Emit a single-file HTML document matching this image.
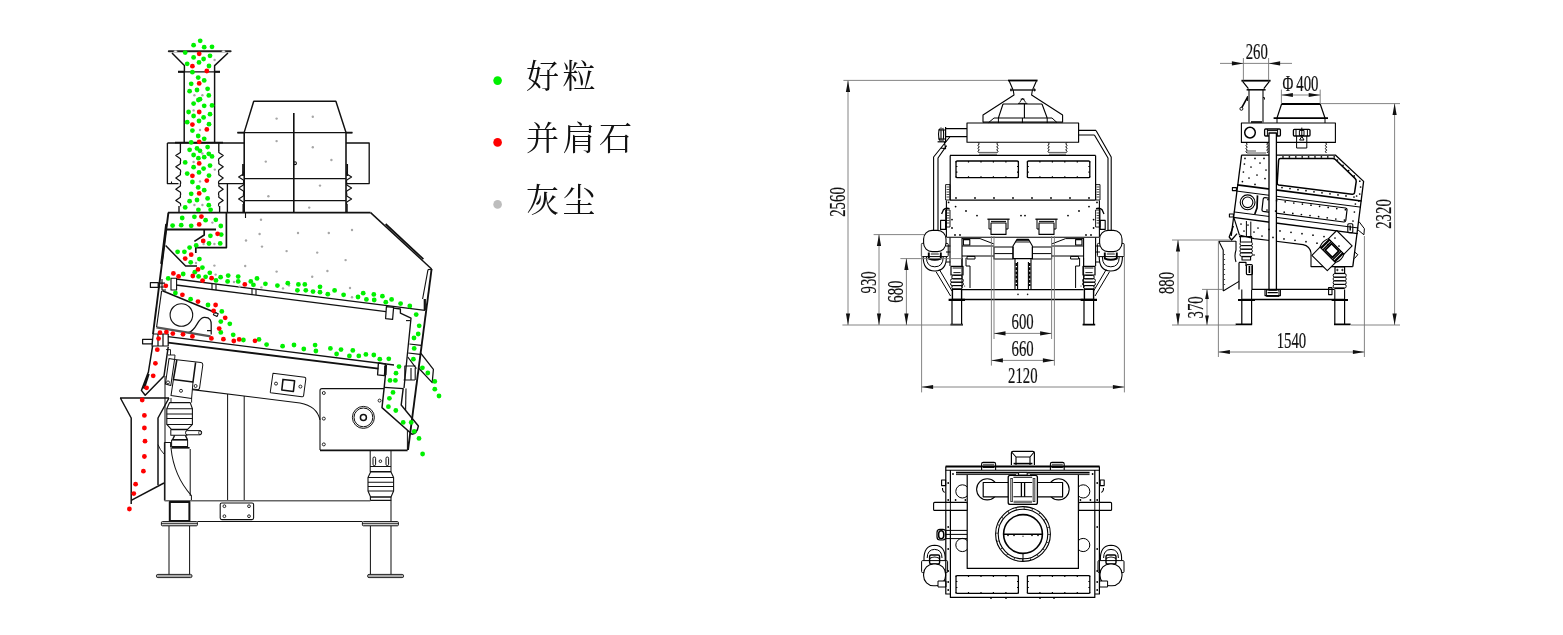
<!DOCTYPE html>
<html lang="zh"><head><meta charset="utf-8"><title>去石机</title>
<style>
html,body{margin:0;padding:0;background:#fff;overflow:hidden}
body{width:1563px;height:635px;position:relative;font-family:"Liberation Sans","Noto Serif CJK SC",sans-serif}
svg{position:absolute;left:0;top:0;display:block;will-change:transform}
.lg{font-family:"Liberation Serif","Noto Serif CJK SC",serif;font-weight:400;font-size:33px;fill:#111;letter-spacing:3.5px}
.dm{font-family:"Liberation Serif","Noto Serif CJK SC",serif;fill:#111;stroke:#111;stroke-width:0.2px}
</style></head><body>
<svg width="1563" height="635" viewBox="0 0 1563 635">
<g id="left" fill="none" stroke="#111" stroke-linejoin="round">
<path d="M168.8,51.2H230.6" stroke-width="2.02" stroke-linecap="round" stroke="#222"/>
<ellipse cx="175.5" cy="51.3" rx="2" ry="0.7" fill="#fff" stroke="none"/><ellipse cx="223.5" cy="51.3" rx="2" ry="0.7" fill="#fff" stroke="none"/>
<path d="M172,53L184.4,65.6V72 M228,53L214.6,65.6V72" stroke-width="1.46" />
<path d="M178,71.8H220" stroke-width="1.23" />
<path d="M178,71.8H184.4 M214.4,71.8H220" stroke-width="2.13" />
<path d="M184.2,72V142 M214.6,72V142" stroke-width="1.46" />
<path d="M175,142.6H223" stroke-width="1.68" />
<path d="M167.4,143H244 M167.4,143V183.6H178.5 M219,183.6H243 M227.4,184V212.6" stroke-width="1.34" />
<path d="M180.4,143V150.4" stroke-width="1.34" />
<path d="M218.8,143V150.4" stroke-width="1.34" />
<path d="M180.4,150 L180.40,152.46 L175.80,155.60 L180.40,158.74 Q180.95,161.20 180.40,161.20 L180.40,163.66 L175.80,166.80 L180.40,169.94 Q180.95,172.40 180.40,172.40 L180.40,174.86 L175.80,178.00 L180.40,181.14 Q180.95,183.60 180.40,183.60 L180.40,186.06 L175.80,189.20 L180.40,192.34 Q180.95,194.80 180.40,194.80 L180.40,197.26 L175.80,200.40 L180.40,203.54 Q180.95,206.00 180.40,206.00" stroke-width="1.23" />
<path d="M218.8,150 L218.80,152.46 L223.20,155.60 L218.80,158.74 Q218.27,161.20 218.80,161.20 L218.80,163.66 L223.20,166.80 L218.80,169.94 Q218.27,172.40 218.80,172.40 L218.80,174.86 L223.20,178.00 L218.80,181.14 Q218.27,183.60 218.80,183.60 L218.80,186.06 L223.20,189.20 L218.80,192.34 Q218.27,194.80 218.80,194.80 L218.80,197.26 L223.20,200.40 L218.80,203.54 Q218.27,206.00 218.80,206.00" stroke-width="1.23" />
<path d="M179,206V212.6 M219.6,206V212.6" stroke-width="1.34" />
<path d="M171.5,181.5v2" stroke-width="1.12" />
<path d="M253.6,101.2H336" stroke-width="1.51" />
<path d="M253.8,101L244.2,132.4 M335.8,101L346,132.4" stroke-width="1.46" />
<path d="M237.4,132.6H352.4" stroke-width="1.34" />
<path d="M237.4,132.6H244 M346,132.6H352.4" stroke-width="1.79" />
<path d="M244.2,132.4V212.6 M346,132.4V212.6" stroke-width="1.57" />
<path d="M244.2,178.6H346 M244.2,200.6H346" stroke-width="1.34" />
<path d="M293.8,113V212.6" stroke-width="1.62" />
<circle cx="295" cy="163.2" r="1.4" stroke-width="1.1"/>
<path d="M346,143H369.2V183.6H346" stroke-width="1.34" />
<path d="M243,164V176 M347.2,164V176" stroke-width="1.68" />
<path d="M243.4,171.5 L243.40,173.92 L238.60,177.00 L243.40,180.08 Q243.98,182.50 243.40,182.50 L243.40,184.92 L238.60,188.00 L243.40,191.08 Q243.98,193.50 243.40,193.50 L243.40,195.92 L238.60,199.00 L243.40,202.08 Q243.98,204.50 243.40,204.50" stroke-width="1.12" />
<path d="M346.8,171.5 L346.80,173.92 L351.60,177.00 L346.80,180.08 Q346.22,182.50 346.80,182.50 L346.80,184.92 L351.60,188.00 L346.80,191.08 Q346.22,193.50 346.80,193.50 L346.80,195.92 L351.60,199.00 L346.80,202.08 Q346.22,204.50 346.80,204.50" stroke-width="1.12" />
<path d="M243.2,204V212 M347,204V212" stroke-width="1.46" />
<path d="M245.5,212.6V218" stroke-width="1.12" />
<path d="M168,212.6H370.6" stroke-width="1.68" />
<path d="M370.6,212.6L431.6,269" stroke-width="1.46" />
<path d="M385.6,224L423.4,259.2" stroke-width="1.79" />
<path d="M431.6,269L408,450" stroke-width="1.9" />
<path d="M428,269.6L422.6,299 M428,269.6L431.4,269.2" stroke-width="1.12" />
<path d="M424.8,299V310" stroke-width="2.24" />
<path d="M168.4,212.6L153,334" stroke-width="1.9" />
<path d="M166.3,224L161.3,264" stroke-width="2.24" />
<path d="M166,229.5H216" stroke-width="1.9" />
<path d="M226.4,212.6V247.6H195.8V253" stroke-width="1.68" />
<path d="M204.2,229.5V235L194.4,241.4" stroke-width="1.68" />
<path d="M165.6,245.6L185.6,266H197" stroke-width="1.46" />
<path d="M176,279L425,310.4" stroke-width="1.34" />
<path d="M176,285L386,311.6" stroke-width="1.34" />
<path d="M171,278.2H176.6V290H171Z" stroke-width="1.12" />
<path d="M150.4,282.6H158.2V287.4H150.4Z M158.2,283.2H165 M158.2,287H164.5" stroke-width="1.23" />
<path d="M162,279V290H166" stroke-width="1.12" />
<path d="M212,283.7V289.6 M216,284.2V290 M252,288.8V294.6 M256,289.3V295" stroke-width="1.12" />
<path d="M386.4,306.6L393.6,307.4L392.6,319.4L385.6,318.6Z" stroke-width="1.23" />
<path d="M393.6,308.2L400.4,309V313.2L411,318.2L404,388" stroke-width="1.34" />
<path d="M406,320.6H410.5" stroke-width="1.12" />
<path d="M409.4,344L421,345.4 M408.2,353L420,354.4" stroke-width="1.23" />
<path d="M420.6,353L433.4,369.4L432.2,382.6L418.6,368" stroke-width="1.23" />
<path d="M407.8,357L416.4,368.6" stroke-width="1.23" />
<path d="M162.4,290.8L216.4,313" stroke-width="1.62" />
<path d="M214.6,312.2L218.2,313.8L217,316.4L213.4,314.8Z" stroke-width="1.12" />
<circle cx="181.4" cy="315" r="11.3" stroke-width="1.1"/>
<path d="M188,332.6C197,331 197,318 204,317.4C210.5,317 211.4,321 211.2,325V334.6 M207,330.6H211" stroke-width="1.23" />
<path d="M156.4,327.4L210.6,336.4" stroke-width="2.35" stroke="#555"/>
<path d="M161.6,291L156.6,327" stroke-width="1.12" />
<path d="M168,336.6L394,365" stroke-width="1.34" />
<path d="M168,342.6L378.4,368.6" stroke-width="1.9" />
<path d="M153.2,334H168.2V346H152Z M158,334V346 M163,334V346" stroke-width="1.23" />
<path d="M142.6,339.4H152.4V343.8H142.6Z" stroke-width="1.23" />
<path d="M378.4,363L385.4,363.8L384.4,375.6L377.6,374.8Z" stroke-width="1.34" />
<path d="M385.4,366V375" stroke-width="2.24" />
<path d="M152.6,346L148.4,372L141.4,390.4L145.2,395.2L164,376L168.2,347" stroke-width="1.51" />
<path d="M148.6,374L143.8,388.6" stroke-width="2.24" />
<path d="M386.4,365L384.2,387.4L382,407.6L412,434.2Q417,433.6 418.4,426L401.2,405L403.2,388.4" stroke-width="1.46" />
<path d="M384.2,387.4L403.4,388.6" stroke-width="1.23" />
<path d="M404.4,366H415.6 M403.6,380H415 M404.8,366V380 M415.2,368V380 M411,368V380" stroke-width="1.12" />
<path d="M406,388.6L405.6,410" stroke-width="1.12" />
<path d="M169,358.6L174.6,359.4L170.8,385.6L165.4,384Z" stroke-width="1.01" />
<path d="M174.6,359.4L201,362.6Q203,363 202.8,365L199.6,388Q199,390 197,389.6L192.4,389" stroke-width="1.01" />
<path d="M176.8,360L173.4,379.6L193,382L195.6,362.4" stroke-width="1.56" />
<path d="M173.4,379.6L171,395.6L191.6,398.4L193,382" stroke-width="1.01" />
<circle cx="168" cy="382.4" r="1.5" stroke-width="0.9"/><circle cx="195.6" cy="386" r="1.5" stroke-width="0.9"/><circle cx="181" cy="390.8" r="1.5" stroke-width="0.9"/>
<path d="M165,376V500.6" stroke-width="1.01" />
<path d="M166,349.6H170.5V355 M168,355H175L174.6,359.4" stroke-width="0.92" />
<path d="M169.6,402.6H190.2L192.4,408.8V424.4L187.6,429.4H171.4L166.8,424.4V408.8Z" stroke-width="1.1" stroke-linejoin="round"/>
<path d="M166.8,408.8H192.4 M166.8,414H192.4 M166.8,418.6H192.4 M166.8,424.4H192.4" stroke-width="1.01" />
<path d="M171,398V402.6 M191.6,398.4V402.6" stroke-width="0.92" />
<path d="M170.8,429.8H187V435.2H170.8Z" stroke-width="1.01" />
<rect x="185.6" y="430.6" width="16" height="4.2" rx="1.6" stroke-width="1" fill="#fff"/><ellipse cx="200" cy="432.7" rx="1.3" ry="2" stroke-width="0.8"/>
<path d="M174.6,435.4L172.6,439.6H187.4L185.4,435.4" stroke-width="1.29" />
<path d="M171.6,440H187.6V446.6H171.6Z" stroke-width="1.01" />
<path d="M171.4,447.8H189.6" stroke-width="1.66" />
<path d="M120,398H169 M120.4,398L131.2,418V504 M169,398L158,418V485" stroke-width="1.47" />
<path d="M131.2,500.4L164,483" stroke-width="1.47" />
<path d="M164.4,442.4H170.6V447.6 M164.4,442.4V500.6 M190.2,449V496" stroke-width="1.01" />
<path d="M171,448C173,468 181,484 191.4,495.6V500.6" stroke-width="1.01" />
<path d="M158,444.6Q160,450 164,454" stroke-width="0.92" />
<path d="M227.6,394V500.6 M244.2,396V500.6" stroke-width="1.01" />
<path d="M192.4,389.6L300,403Q317,406 320,420" stroke-width="1.1" />
<path d="M273,373.2L304.6,377.2Q306,377.6 305.8,379L303.6,395.6Q303.2,397 301.8,396.8L270.6,392.8Q270,392.6 270.4,391.2Z" stroke-width="1.01" />
<path d="M283,379.4L294.6,380.8L293.4,391.4L281.8,390Z" stroke-width="1.56" />
<circle cx="276" cy="383.6" r="1.5" stroke-width="0.9"/><circle cx="300.4" cy="386.6" r="1.5" stroke-width="0.9"/>
<path d="M384,388.6H322Q320,388.6 320,390.6V450" stroke-width="1.1" />
<path d="M320,450.4H407.6" stroke-width="1.84" />
<path d="M407.4,430V450" stroke-width="1.01" />
<circle cx="323.8" cy="393" r="1.5" stroke-width="0.9"/>
<circle cx="323.8" cy="418.6" r="1.5" stroke-width="0.9"/>
<circle cx="323.8" cy="444.4" r="1.5" stroke-width="0.9"/>
<circle cx="379.6" cy="400.6" r="1.5" stroke-width="0.9"/>
<circle cx="363.4" cy="417.4" r="11" stroke-width="1"/><circle cx="363.4" cy="417.4" r="9.4" stroke-width="1"/><circle cx="363.4" cy="417.4" r="3" stroke-width="1.5"/>
<path d="M370.2,451V471.4H391V451 M370.2,466.6H391" stroke-width="1.01" />
<rect x="373" y="457" width="2.6" height="8.6" rx="1.3" stroke-width="1"/><rect x="386" y="457" width="2.6" height="8.6" rx="1.3" stroke-width="1"/><circle cx="380.4" cy="461.2" r="1.3" stroke-width="0.9"/>
<path d="M370.6,472H391L393.6,477.6V491L391,497H370.6L368,491V477.6Z" stroke-width="1.1" />
<path d="M368,477.6H393.6 M368,482.2H393.6 M368,486.6H393.6 M368,491H393.6" stroke-width="1.01" />
<path d="M370.4,497H391V500.4H370.4Z" stroke-width="1.1" />
<path d="M164.6,500.8H370.4" stroke-width="1.56" stroke="#666"/>
<path d="M197.4,521.5H362.4 M391,500.4V521.4" stroke-width="1.01" />
<rect x="169.8" y="502" width="19.6" height="19" stroke-width="2"/>
<rect x="220.2" y="503" width="33.4" height="16.6" rx="1.6" stroke-width="1.1"/>
<circle cx="224.4" cy="506.2" r="1.4" stroke-width="0.9"/>
<circle cx="249" cy="506.2" r="1.4" stroke-width="0.9"/>
<circle cx="224.4" cy="516.2" r="1.4" stroke-width="0.9"/>
<circle cx="249" cy="516.2" r="1.4" stroke-width="0.9"/>
<rect x="161.4" y="521.6" width="36" height="4.2" rx="1" stroke-width="1" fill="#ddd"/>
<path d="M161.4,523.6h36" stroke-width="0.8"/>
<rect x="362.4" y="521.6" width="36" height="4.2" rx="1" stroke-width="1" fill="#ddd"/>
<path d="M362.4,523.6h36" stroke-width="0.8"/>
<path d="M169,526V574.4 M189.6,526V574.4 M370.4,526V574.4 M391,526V574.4" stroke-width="1.01" />
<rect x="156.4" y="574.4" width="35.6" height="3.2" rx="1.4" stroke-width="0.9" fill="#aaa"/>
<rect x="367.6" y="574.4" width="36" height="3.2" rx="1.4" stroke-width="0.9" fill="#aaa"/>
</g>
<g id="dots">
<g fill="#a6a6a6"><circle cx="214.6" cy="60.0" r="1.2"/><circle cx="194.4" cy="95.2" r="1.2"/><circle cx="202.4" cy="95.2" r="1.2"/><circle cx="193.6" cy="110.4" r="1.2"/><circle cx="200.0" cy="130.0" r="1.2"/><circle cx="276.6" cy="118.6" r="1.2"/><circle cx="312.8" cy="116.8" r="1.2"/><circle cx="276.6" cy="141.1" r="1.2"/><circle cx="312.8" cy="147.3" r="1.2"/><circle cx="202.4" cy="153.5" r="1.2"/><circle cx="265.8" cy="161.6" r="1.2"/><circle cx="331.4" cy="160.0" r="1.2"/><circle cx="320.0" cy="185.6" r="1.2"/><circle cx="268.4" cy="196.2" r="1.2"/><circle cx="309.2" cy="207.6" r="1.2"/><circle cx="261.0" cy="219.8" r="1.2"/><circle cx="259.6" cy="234.0" r="1.2"/><circle cx="298.0" cy="233.0" r="1.2"/><circle cx="328.8" cy="233.0" r="1.2"/><circle cx="352.0" cy="230.0" r="1.2"/><circle cx="246.0" cy="240.5" r="1.2"/><circle cx="262.0" cy="246.6" r="1.2"/><circle cx="286.6" cy="251.1" r="1.2"/><circle cx="317.2" cy="252.6" r="1.2"/><circle cx="345.6" cy="260.1" r="1.2"/><circle cx="193.6" cy="162.0" r="1.2"/><circle cx="214.8" cy="169.6" r="1.2"/><circle cx="200.0" cy="181.4" r="1.2"/><circle cx="194.4" cy="205.0" r="1.2"/><circle cx="202.4" cy="205.0" r="1.2"/><circle cx="212.4" cy="222.6" r="1.2"/><circle cx="203.6" cy="244.0" r="1.2"/><circle cx="214.4" cy="244.0" r="1.2"/><circle cx="196.0" cy="263.0" r="1.2"/><circle cx="214.4" cy="265.6" r="1.2"/><circle cx="245.2" cy="266.0" r="1.2"/><circle cx="276.6" cy="271.6" r="1.2"/><circle cx="327.4" cy="271.0" r="1.2"/><circle cx="312.2" cy="276.8" r="1.2"/><circle cx="215.6" cy="274.6" r="1.2"/><circle cx="234.0" cy="282.0" r="1.2"/><circle cx="261.4" cy="287.4" r="1.2"/><circle cx="283.0" cy="288.4" r="1.2"/><circle cx="289.0" cy="285.4" r="1.2"/><circle cx="350.0" cy="288.0" r="1.2"/><circle cx="352.0" cy="297.2" r="1.2"/><circle cx="239.6" cy="286.6" r="1.2"/></g>
<g fill="#00f000"><circle cx="200.2" cy="40.8" r="2.4"/><circle cx="193.6" cy="45.2" r="2.4"/><circle cx="204.2" cy="47.2" r="2.4"/><circle cx="212.0" cy="46.8" r="2.4"/><circle cx="185.2" cy="52.6" r="2.4"/><circle cx="193.6" cy="57.4" r="2.4"/><circle cx="210.0" cy="55.8" r="2.4"/><circle cx="203.6" cy="59.0" r="2.4"/><circle cx="199.0" cy="62.4" r="2.4"/><circle cx="187.2" cy="63.8" r="2.4"/><circle cx="209.0" cy="66.0" r="2.4"/><circle cx="192.4" cy="72.2" r="2.4"/><circle cx="198.2" cy="77.6" r="2.4"/><circle cx="204.2" cy="80.4" r="2.4"/><circle cx="191.2" cy="83.8" r="2.4"/><circle cx="207.6" cy="88.8" r="2.4"/><circle cx="197.0" cy="90.0" r="2.4"/><circle cx="189.6" cy="91.2" r="2.4"/><circle cx="208.8" cy="95.4" r="2.4"/><circle cx="200.0" cy="99.2" r="2.4"/><circle cx="198.4" cy="100.0" r="2.4"/><circle cx="193.6" cy="103.6" r="2.4"/><circle cx="204.2" cy="105.8" r="2.4"/><circle cx="212.0" cy="105.4" r="2.4"/><circle cx="188.6" cy="112.0" r="2.4"/><circle cx="193.6" cy="116.0" r="2.4"/><circle cx="210.0" cy="114.2" r="2.4"/><circle cx="203.6" cy="117.4" r="2.4"/><circle cx="199.0" cy="121.0" r="2.4"/><circle cx="187.2" cy="122.2" r="2.4"/><circle cx="209.0" cy="124.2" r="2.4"/><circle cx="192.4" cy="130.6" r="2.4"/><circle cx="198.2" cy="136.0" r="2.4"/><circle cx="204.2" cy="138.8" r="2.4"/><circle cx="191.2" cy="142.4" r="2.4"/><circle cx="207.6" cy="147.1" r="2.4"/><circle cx="197.0" cy="148.4" r="2.4"/><circle cx="189.6" cy="149.8" r="2.4"/><circle cx="200.0" cy="150.8" r="2.4"/><circle cx="208.8" cy="153.8" r="2.4"/><circle cx="193.6" cy="155.0" r="2.4"/><circle cx="212.0" cy="156.4" r="2.4"/><circle cx="204.2" cy="157.2" r="2.4"/><circle cx="198.4" cy="158.2" r="2.4"/><circle cx="185.2" cy="162.4" r="2.4"/><circle cx="210.0" cy="165.6" r="2.4"/><circle cx="193.6" cy="167.2" r="2.4"/><circle cx="203.6" cy="168.6" r="2.4"/><circle cx="199.0" cy="172.4" r="2.4"/><circle cx="187.2" cy="173.6" r="2.4"/><circle cx="209.0" cy="175.6" r="2.4"/><circle cx="192.4" cy="182.0" r="2.4"/><circle cx="198.2" cy="187.4" r="2.4"/><circle cx="204.2" cy="190.2" r="2.4"/><circle cx="191.2" cy="193.8" r="2.4"/><circle cx="207.6" cy="198.4" r="2.4"/><circle cx="197.0" cy="200.0" r="2.4"/><circle cx="189.6" cy="201.2" r="2.4"/><circle cx="208.8" cy="205.2" r="2.4"/><circle cx="185.2" cy="207.4" r="2.4"/><circle cx="198.4" cy="209.8" r="2.4"/><circle cx="210.6" cy="209.8" r="2.4"/><circle cx="182.2" cy="218.0" r="2.4"/><circle cx="194.4" cy="216.8" r="2.4"/><circle cx="205.6" cy="220.2" r="2.4"/><circle cx="215.8" cy="219.8" r="2.4"/><circle cx="172.6" cy="225.6" r="2.4"/><circle cx="181.2" cy="225.2" r="2.4"/><circle cx="191.2" cy="225.8" r="2.4"/><circle cx="220.8" cy="226.0" r="2.4"/><circle cx="210.4" cy="235.8" r="2.4"/><circle cx="221.2" cy="234.6" r="2.4"/><circle cx="209.0" cy="243.5" r="2.4"/><circle cx="220.2" cy="243.4" r="2.4"/><circle cx="196.2" cy="245.4" r="2.4"/><circle cx="189.6" cy="247.6" r="2.4"/><circle cx="177.6" cy="251.8" r="2.4"/><circle cx="184.4" cy="251.8" r="2.4"/><circle cx="199.4" cy="259.1" r="2.4"/><circle cx="190.7" cy="262.3" r="2.4"/><circle cx="202.4" cy="267.6" r="2.4"/><circle cx="194.8" cy="272.2" r="2.4"/><circle cx="183.2" cy="274.0" r="2.4"/><circle cx="209.8" cy="272.8" r="2.4"/><circle cx="198.6" cy="276.4" r="2.4"/><circle cx="205.6" cy="276.8" r="2.4"/><circle cx="168.2" cy="278.4" r="2.4"/><circle cx="220.6" cy="277.2" r="2.4"/><circle cx="228.2" cy="275.6" r="2.4"/><circle cx="238.2" cy="276.6" r="2.4"/><circle cx="216.0" cy="280.4" r="2.4"/><circle cx="227.6" cy="281.4" r="2.4"/><circle cx="238.2" cy="281.4" r="2.4"/><circle cx="257.0" cy="278.4" r="2.4"/><circle cx="250.8" cy="281.4" r="2.4"/><circle cx="253.4" cy="284.8" r="2.4"/><circle cx="265.4" cy="283.8" r="2.4"/><circle cx="277.4" cy="285.6" r="2.4"/><circle cx="287.8" cy="283.2" r="2.4"/><circle cx="298.4" cy="284.4" r="2.4"/><circle cx="304.8" cy="284.4" r="2.4"/><circle cx="297.4" cy="290.3" r="2.4"/><circle cx="305.8" cy="290.3" r="2.4"/><circle cx="313.0" cy="291.6" r="2.4"/><circle cx="320.0" cy="286.8" r="2.4"/><circle cx="320.0" cy="292.2" r="2.4"/><circle cx="327.8" cy="294.2" r="2.4"/><circle cx="334.6" cy="290.4" r="2.4"/><circle cx="343.6" cy="294.8" r="2.4"/><circle cx="358.0" cy="297.0" r="2.4"/><circle cx="363.2" cy="293.2" r="2.4"/><circle cx="366.4" cy="299.4" r="2.4"/><circle cx="373.8" cy="294.4" r="2.4"/><circle cx="374.2" cy="300.0" r="2.4"/><circle cx="382.4" cy="296.2" r="2.4"/><circle cx="385.8" cy="302.2" r="2.4"/><circle cx="391.6" cy="299.4" r="2.4"/><circle cx="400.6" cy="303.6" r="2.4"/><circle cx="409.8" cy="306.0" r="2.4"/><circle cx="416.2" cy="314.6" r="2.4"/><circle cx="419.2" cy="325.8" r="2.4"/><circle cx="418.2" cy="334.0" r="2.4"/><circle cx="414.0" cy="338.0" r="2.4"/><circle cx="414.2" cy="348.4" r="2.4"/><circle cx="413.4" cy="359.2" r="2.4"/><circle cx="422.4" cy="367.8" r="2.4"/><circle cx="427.8" cy="373.0" r="2.4"/><circle cx="434.8" cy="381.4" r="2.4"/><circle cx="434.8" cy="389.2" r="2.4"/><circle cx="439.0" cy="396.0" r="2.4"/><circle cx="399.0" cy="366.6" r="2.4"/><circle cx="396.0" cy="373.2" r="2.4"/><circle cx="390.0" cy="380.4" r="2.4"/><circle cx="395.4" cy="380.4" r="2.4"/><circle cx="393.0" cy="392.4" r="2.4"/><circle cx="389.4" cy="398.3" r="2.4"/><circle cx="388.4" cy="406.7" r="2.4"/><circle cx="395.8" cy="410.5" r="2.4"/><circle cx="403.2" cy="422.4" r="2.4"/><circle cx="411.2" cy="422.4" r="2.4"/><circle cx="414.2" cy="431.4" r="2.4"/><circle cx="419.0" cy="438.4" r="2.4"/><circle cx="422.6" cy="454.0" r="2.4"/><circle cx="175.4" cy="293.0" r="2.4"/><circle cx="190.6" cy="299.2" r="2.4"/><circle cx="208.0" cy="305.0" r="2.4"/><circle cx="221.8" cy="311.4" r="2.4"/><circle cx="220.8" cy="321.6" r="2.4"/><circle cx="229.8" cy="323.8" r="2.4"/><circle cx="220.8" cy="332.4" r="2.4"/><circle cx="233.2" cy="334.8" r="2.4"/><circle cx="243.4" cy="340.0" r="2.4"/><circle cx="259.0" cy="339.4" r="2.4"/><circle cx="266.6" cy="344.6" r="2.4"/><circle cx="282.6" cy="346.2" r="2.4"/><circle cx="294.0" cy="345.0" r="2.4"/><circle cx="303.8" cy="349.0" r="2.4"/><circle cx="315.1" cy="345.1" r="2.4"/><circle cx="315.9" cy="351.0" r="2.4"/><circle cx="330.4" cy="348.4" r="2.4"/><circle cx="336.6" cy="354.0" r="2.4"/><circle cx="341.0" cy="349.6" r="2.4"/><circle cx="349.4" cy="355.9" r="2.4"/><circle cx="352.8" cy="350.4" r="2.4"/><circle cx="358.8" cy="355.9" r="2.4"/><circle cx="365.9" cy="354.4" r="2.4"/><circle cx="373.8" cy="355.0" r="2.4"/><circle cx="379.8" cy="359.2" r="2.4"/><circle cx="388.8" cy="358.8" r="2.4"/></g>
<g fill="#ff0000"><circle cx="199.2" cy="53.8" r="2.4"/><circle cx="192.4" cy="66.2" r="2.4"/><circle cx="206.8" cy="71.0" r="2.4"/><circle cx="199.2" cy="83.4" r="2.4"/><circle cx="199.2" cy="112.0" r="2.4"/><circle cx="192.4" cy="124.6" r="2.4"/><circle cx="206.8" cy="129.4" r="2.4"/><circle cx="199.2" cy="141.8" r="2.4"/><circle cx="199.2" cy="163.4" r="2.4"/><circle cx="192.4" cy="175.8" r="2.4"/><circle cx="206.8" cy="180.6" r="2.4"/><circle cx="199.2" cy="193.4" r="2.4"/><circle cx="201.4" cy="216.6" r="2.4"/><circle cx="199.2" cy="224.4" r="2.4"/><circle cx="217.6" cy="233.8" r="2.4"/><circle cx="203.2" cy="240.9" r="2.4"/><circle cx="191.2" cy="254.7" r="2.4"/><circle cx="185.2" cy="258.6" r="2.4"/><circle cx="198.0" cy="269.4" r="2.4"/><circle cx="173.4" cy="273.4" r="2.4"/><circle cx="178.6" cy="276.4" r="2.4"/><circle cx="192.8" cy="276.0" r="2.4"/><circle cx="211.6" cy="278.2" r="2.4"/><circle cx="202.6" cy="280.6" r="2.4"/><circle cx="244.8" cy="284.4" r="2.4"/><circle cx="165.8" cy="285.8" r="2.4"/><circle cx="182.4" cy="294.8" r="2.4"/><circle cx="198.0" cy="301.6" r="2.4"/><circle cx="215.6" cy="305.0" r="2.4"/><circle cx="213.6" cy="310.8" r="2.4"/><circle cx="225.2" cy="317.8" r="2.4"/><circle cx="219.2" cy="328.6" r="2.4"/><circle cx="160.0" cy="332.7" r="2.4"/><circle cx="166.4" cy="332.1" r="2.4"/><circle cx="172.8" cy="333.6" r="2.4"/><circle cx="183.0" cy="334.3" r="2.4"/><circle cx="192.4" cy="336.4" r="2.4"/><circle cx="211.4" cy="338.4" r="2.4"/><circle cx="223.4" cy="339.2" r="2.4"/><circle cx="233.8" cy="341.0" r="2.4"/><circle cx="239.2" cy="339.4" r="2.4"/><circle cx="255.0" cy="340.8" r="2.4"/><circle cx="158.6" cy="338.6" r="2.4"/><circle cx="157.3" cy="349.7" r="2.4"/><circle cx="155.4" cy="363.3" r="2.4"/><circle cx="153.2" cy="375.8" r="2.4"/><circle cx="146.6" cy="387.8" r="2.4"/><circle cx="142.2" cy="400.0" r="2.4"/><circle cx="144.4" cy="415.4" r="2.4"/><circle cx="144.4" cy="428.0" r="2.4"/><circle cx="145.0" cy="441.2" r="2.4"/><circle cx="144.4" cy="456.5" r="2.4"/><circle cx="143.4" cy="471.2" r="2.4"/><circle cx="135.6" cy="484.2" r="2.4"/><circle cx="133.8" cy="493.6" r="2.4"/><circle cx="129.4" cy="509.0" r="2.4"/></g>
</g>
<g id="legend">
<circle cx="497.6" cy="80.6" r="4.3" fill="#00f000"/>
<circle cx="497.6" cy="142.4" r="4.3" fill="#ff0000"/>
<circle cx="497.6" cy="204.4" r="4.3" fill="#bdbdbd"/>
<text class="lg" x="526" y="88">好粒</text>
<text class="lg" x="526" y="150">并肩石</text>
<text class="lg" x="526" y="212">灰尘</text>
</g>
<g id="front" fill="none" stroke="#000" stroke-linejoin="round">
<path d="M1008,80.5H1037.6" stroke-width="1.8" />
<path d="M1009.2,81L1013,89.8 M1036.4,81L1032.6,89.8" stroke-width="1.1" />
<path d="M1010,90H1035.8" stroke-width="1.3" />
<path d="M1011,88.4v3M1034.6,88.4v3" stroke-width="0.9" />
<path d="M1013.2,90L1014,95L983,115V122.6 M1032.4,90L1031.6,95L1062.6,115V122.6" stroke-width="1.1" />
<path d="M1003,104H1042 M1003,104L998.4,118 M1042,104L1047.2,118 M994,118H1052 M1024.4,104V118" stroke-width="1.1" />
<path d="M994,118L988.6,122.6 M1052,118L1057,122.6 M998.4,118V123 M1047.2,118V123 M1022.4,118V123" stroke-width="1.0" />
<path d="M1019.6,102.6L1022.6,98L1025.8,102.6 M1020.6,99.2H1024.6 M1018,103.4H1027.4" stroke-width="0.9" />
<path d="M983,122.2H1062.6" stroke-width="1.2" />
<rect x="967" y="123" width="111.6" height="19.2" rx="0" stroke-width="1.15" />
<path d="M945.6,128.6H967 M945.6,136.6H967 M945.6,127V142" stroke-width="1.2" />
<path d="M941,127.4V141.6 M938.2,130H945 M938.2,139H945 M939.6,128.6Q937.4,134 939.6,140.6 M942.8,128Q944.6,134 942.8,141" stroke-width="1.1" />
<path d="M937.6,141.8H946" stroke-width="1.2" />
<path d="M1078.6,130.4H1096 M1078.6,135H1094.4" stroke-width="1.1" />
<path d="M1096,130.4L1111.2,157V230.4 M1094.4,135L1108,158V230.4" stroke-width="1.1" />
<path d="M949.8,137L933.6,157V230.4 M946.6,145.6L938,158V230.4 M940.6,148L945.6,148.6L944.4,142" stroke-width="1.1" />
<path d="M978,142.4l1.2,1.5l-1.2,1.5l1.2,1.5l-1.2,1.5l1.2,1.5l-1.2,1.5l1,1.4 M998,142.4l-1.2,1.5l1.2,1.5l-1.2,1.5l1.2,1.5l-1.2,1.5l1.2,1.5l-1,1.4" stroke-width="1.0" />
<path d="M979,152.4H997 M979,154.2H997" stroke-width="0.9" stroke="#444"/>
<path d="M1048,142.4l1.2,1.5l-1.2,1.5l1.2,1.5l-1.2,1.5l1.2,1.5l-1.2,1.5l1,1.4 M1067,142.4l-1.2,1.5l1.2,1.5l-1.2,1.5l1.2,1.5l-1.2,1.5l1.2,1.5l-1,1.4" stroke-width="1.0" />
<path d="M1049,152.4H1066 M1049,154.2H1066" stroke-width="0.9" stroke="#444"/>
<path d="M950,155.4H1095.6 M950.2,155.4V200 M1095.6,155.4V200" stroke-width="1.2" />
<rect x="956" y="161" width="62.4" height="16.6" rx="1.2" stroke-width="1.3" />
<path d="M956.0,161v1.4M956.0,177.6v-1.4M968.5,161v1.4M968.5,177.6v-1.4M981.0,161v1.4M981.0,177.6v-1.4M993.4,161v1.4M993.4,177.6v-1.4M1005.9,161v1.4M1005.9,177.6v-1.4M1018.4,161v1.4M1018.4,177.6v-1.4M956,166.5h1.4M1018.4,166.5h-1.4M956,172.1h1.4M1018.4,172.1h-1.4" stroke-width="1.2" />
<rect x="1027.4" y="161" width="62.4" height="16.6" rx="1.2" stroke-width="1.3" />
<path d="M1027.4,161v1.4M1027.4,177.6v-1.4M1039.9,161v1.4M1039.9,177.6v-1.4M1052.4,161v1.4M1052.4,177.6v-1.4M1064.8,161v1.4M1064.8,177.6v-1.4M1077.3,161v1.4M1077.3,177.6v-1.4M1089.8,161v1.4M1089.8,177.6v-1.4M1027.4,166.5h1.4M1089.8,166.5h-1.4M1027.4,172.1h1.4M1089.8,172.1h-1.4" stroke-width="1.2" />
<rect x="945.6" y="184.6" width="4.4" height="15.4" rx="0" stroke-width="0.9" />
<rect x="945.6" y="210" width="4.4" height="17" rx="0" stroke-width="0.9" />
<path d="M946.6,187h2.799999999999977M946.6,189.5h2.799999999999977M946.6,192h2.799999999999977M946.6,194.5h2.799999999999977M946.6,197h2.799999999999977M946.6,213h2.799999999999977M946.6,215.5h2.799999999999977M946.6,218h2.799999999999977M946.6,220.5h2.799999999999977M946.6,223h2.799999999999977" stroke-width="0.7" />
<rect x="1095.6" y="184.6" width="4.4" height="15.4" rx="0" stroke-width="0.9" />
<rect x="1095.6" y="210" width="4.4" height="17" rx="0" stroke-width="0.9" />
<path d="M1096.6,187h2.800000000000091M1096.6,189.5h2.800000000000091M1096.6,192h2.800000000000091M1096.6,194.5h2.800000000000091M1096.6,197h2.800000000000091M1096.6,213h2.800000000000091M1096.6,215.5h2.800000000000091M1096.6,218h2.800000000000091M1096.6,220.5h2.800000000000091M1096.6,223h2.800000000000091" stroke-width="0.7" />
<path d="M950,200.2H1095.6" stroke-width="1.2" />
<path d="M946.4,200.4V237 M1099.4,200.4V237 M946.4,237.2H1099.4" stroke-width="1.1" />
<path d="M943.2,210Q945.6,207.4 949.6,208.6 M1102.4,210Q1100,207.4 1096,208.6 M941.6,214l1.8,-4 M1104,214l-1.8,-4" stroke-width="1.3" />
<path d="M940.6,220.4h5v9h-5z M1100.2,220.4h5v9h-5z" stroke-width="1.1" />
<g fill="#000" stroke="none"><circle cx="956" cy="198" r="0.9"/><circle cx="975" cy="198" r="0.9"/><circle cx="994" cy="198" r="0.9"/><circle cx="1013" cy="198" r="0.9"/><circle cx="1032" cy="198" r="0.9"/><circle cx="1051" cy="198" r="0.9"/><circle cx="1070" cy="198" r="0.9"/><circle cx="1089" cy="198" r="0.9"/><circle cx="955.6" cy="206.6" r="0.9"/><circle cx="1089" cy="206.6" r="0.9"/><circle cx="966" cy="211" r="0.9"/><circle cx="1079" cy="211" r="0.9"/><circle cx="977" cy="215.6" r="0.9"/><circle cx="1068" cy="215.6" r="0.9"/><circle cx="1021" cy="215.6" r="0.9"/><circle cx="1025" cy="215.6" r="0.9"/><circle cx="952" cy="228" r="0.9"/><circle cx="1093.6" cy="228" r="0.9"/><circle cx="952" cy="219.6" r="0.9"/><circle cx="1093.6" cy="219.6" r="0.9"/><circle cx="955" cy="235" r="0.9"/><circle cx="960" cy="235" r="0.9"/><circle cx="1086" cy="235" r="0.9"/><circle cx="1091" cy="235" r="0.9"/><circle cx="948.6" cy="202.4" r="0.9"/><circle cx="1097" cy="202.4" r="0.9"/></g>
<path d="M987.4,219.2H1009.6" stroke-width="1.3" />
<path d="M989,219.4V229H991 M1008,219.4V229H1006" stroke-width="1.0" />
<rect x="991" y="223" width="15" height="11.4" rx="0" stroke-width="1.1" />
<path d="M991,221.4H1006" stroke-width="1.0" />
<path d="M1035.4,219.2H1057.6" stroke-width="1.3" />
<path d="M1037,219.4V229H1039 M1056,219.4V229H1054" stroke-width="1.0" />
<rect x="1039" y="223" width="15" height="11.4" rx="0" stroke-width="1.1" />
<path d="M1039,221.4H1054" stroke-width="1.0" />
<path d="M950,237.4V266 M962,238V266 M1083.6,238V266 M1095.6,237.4V266" stroke-width="1.1" />
<path d="M962,246H994 M962,256H994 M1051.6,246H1083.6 M1051.6,256H1083.6" stroke-width="1.1" />
<path d="M962,238.6H980L994,244 M1083.6,238.6H1065.6L1051.6,244" stroke-width="1.0" />
<rect x="994" y="247" width="19" height="12" rx="0" stroke-width="1.1" />
<rect x="1032.4" y="247" width="19.2" height="12" rx="0" stroke-width="1.1" />
<path d="M994,253.6H1013 M1032.4,253.6H1051.6" stroke-width="1.0" />
<path d="M1013,246L1017,239.4H1028.6L1032.4,246V258.6H1013Z" stroke-width="1.1" />
<path d="M1016.4,240.6H1029 M1015.6,242H1029.8" stroke-width="0.9" />
<path d="M963.4,239.6h6.4v5.4h-6.4z M1075.6,239.6h6.4v5.4h-6.4z" stroke-width="1.1" />
<path d="M967,256.4h8v2.6h-8z M1070.6,256.4h8v2.6h-8z" stroke-width="1.0" />
<path d="M1015,259V289.4 M1017.6,262V289.4 M1028.4,262V289.4 M1031,259V289.4" stroke-width="1.1" />
<path d="M1016.3,263V286 M1029.7,263V286" stroke-width="1.6" stroke-dasharray="3 1.2"/>
<path d="M962,258V288 M970,266V288 M966,258V266H970 M1083.6,258V288 M1075.6,266V288 M1079.6,258V266H1075.6" stroke-width="1.0" />
<rect x="951" y="266.4" width="12" height="8.6" rx="0" stroke-width="1.2" />
<path d="M952.6,268h8.8M953.4,272.6h7.2" stroke-width="0.9" />
<rect x="951.8" y="275.4" width="10.4" height="3.4" rx="1.6" stroke-width="1.0" />
<rect x="950.6" y="278.8" width="12.8" height="3.4" rx="1.6" stroke-width="1.0" />
<rect x="950.6" y="282.2" width="12.8" height="3.4" rx="1.6" stroke-width="1.0" />
<rect x="951.8" y="285.6" width="10.4" height="3.4" rx="1.6" stroke-width="1.0" />
<rect x="952.4" y="289.2" width="9.2" height="10.2" rx="0" stroke-width="1.4" />
<rect x="1083" y="266.4" width="12" height="8.6" rx="0" stroke-width="1.2" />
<path d="M1084.6,268h8.8M1085.4,272.6h7.2" stroke-width="0.9" />
<rect x="1083.8" y="275.4" width="10.4" height="3.4" rx="1.6" stroke-width="1.0" />
<rect x="1082.6" y="278.8" width="12.8" height="3.4" rx="1.6" stroke-width="1.0" />
<rect x="1082.6" y="282.2" width="12.8" height="3.4" rx="1.6" stroke-width="1.0" />
<rect x="1083.8" y="285.6" width="10.4" height="3.4" rx="1.6" stroke-width="1.0" />
<rect x="1084.4" y="289.2" width="9.2" height="10.2" rx="0" stroke-width="1.4" />
<path d="M936,271.6L950.6,296 M939.4,269.6L952,291 M1109.6,271.6L1095,296 M1106.2,269.6L1093.6,291" stroke-width="1.0" />
<path d="M962,289.6H1083.6" stroke-width="1.1" />
<path d="M948.6,299.8H965 M1080.6,299.8H1097" stroke-width="2.2" />
<path d="M962,299.4H1083.6" stroke-width="1.5" />
<g fill="#222" stroke="none"><circle cx="1018" cy="294.4" r="0.8"/><circle cx="1027.6" cy="294.4" r="0.8"/><circle cx="964.6" cy="286" r="0.6"/><circle cx="1081" cy="286" r="0.6"/></g>
<path d="M952,300V324.4 M961.6,300V324.4 M1084,300V324.4 M1093.6,300V324.4" stroke-width="1.2" />
<path d="M950.4,324.6H963 M1082.6,324.6H1095.2" stroke-width="1.6" />
<rect x="921.4" y="243.4" width="26.8" height="13.2" rx="1" stroke-width="1.0" fill="none"/>
<path d="M923.1999999999999,257Q923.1999999999999,271 934.8,271Q946.4,271 946.4,257" stroke-width="1.1" />
<path d="M926.4,257Q926.4,266.8 934.8,266.8Q943.1999999999999,266.8 943.1999999999999,257" stroke-width="1.0" />
<rect x="923.5999999999999" y="230.4" width="22.4" height="21.2" rx="8.5" stroke-width="1.1" fill="#fff"/>
<path d="M928.8,252.4V258.6Q934.8,261 940.8,258.6V252.4" stroke-width="1.9" />
<path d="M930.8,254h8" stroke-width="0.9" />
<rect x="1097.3999999999999" y="243.4" width="26.8" height="13.2" rx="1" stroke-width="1.0" fill="none"/>
<path d="M1099.2,257Q1099.2,271 1110.8,271Q1122.3999999999999,271 1122.3999999999999,257" stroke-width="1.1" />
<path d="M1102.3999999999999,257Q1102.3999999999999,266.8 1110.8,266.8Q1119.2,266.8 1119.2,257" stroke-width="1.0" />
<rect x="1099.6" y="230.4" width="22.4" height="21.2" rx="8.5" stroke-width="1.1" fill="#fff"/>
<path d="M1104.8,252.4V258.6Q1110.8,261 1116.8,258.6V252.4" stroke-width="1.9" />
<path d="M1106.8,254h8" stroke-width="0.9" />
<path d="M946,246h4.4M946,252h4.4M946,262h4.4 M1095.6,246h4.4M1095.6,252h4.4M1095.6,262h4.4" stroke-width="1.0" />
</g>
<g id="side" fill="none" stroke="#000" stroke-linejoin="round">
<path d="M1241.4,80.7H1270.6" stroke-width="1.8" />
<path d="M1242.6,81.4L1248.4,88.6 M1269.4,81.4L1263.8,88.6" stroke-width="1.2" />
<path d="M1246.6,89.8H1265.6" stroke-width="1.5" />
<path d="M1249,90V122.6 M1263,90V122.6" stroke-width="1.05" />
<path d="M1247.4,97.4L1241.8,107.6" stroke-width="1.6" />
<circle cx="1241.4" cy="108.8" r="1.5" stroke-width="0.9"/>
<path d="M1247.4,96v5 M1263,97.6h1.4v2" stroke-width="1.0" />
<path d="M1251,122H1262" stroke-width="1.6" />
<path d="M1281.4,104H1320.4" stroke-width="1.8" />
<path d="M1281.6,104L1277,118 M1320.2,104L1325,118" stroke-width="1.2" />
<path d="M1273.6,118.2H1328" stroke-width="1.7" />
<path d="M1277,118.4V123 M1325,118.4V123" stroke-width="1.0" />
<rect x="1241.4" y="123" width="94.0" height="19.4" rx="0" stroke-width="1.1" />
<circle cx="1250" cy="132.6" r="5.3" stroke-width="1.5"/>
<rect x="1264.6" y="129" width="15.8" height="7" rx="1" stroke-width="1.3" />
<path d="M1267.4,129v7M1277.6,129v7 M1267.4,130.6h10.2" stroke-width="1.0" />
<rect x="1293.4" y="129.4" width="16.6" height="6.6" rx="1" stroke-width="1.3" />
<path d="M1296,129.4v6.6M1307.4,129.4v6.6 M1299.4,130.4h4.6v5h-4.6z M1301.8,127.6v10 M1299.6,140L1301.8,136.4L1304,140Z" stroke-width="1.0" />
<path d="M1296.6,136V148H1306.8V136" stroke-width="1.0" />
<path d="M1246,142.6l1.2,1.5l-1.2,1.5l1.2,1.5l-1.2,1.5l1.2,1.5l-1.2,1.5l1,1.4 M1268,142.6l-1.2,1.5l1.2,1.5l-1.2,1.5l1.2,1.5l-1.2,1.5l1.2,1.5l-1,1.4" stroke-width="1.0" />
<path d="M1247,151h9 M1247,153h19" stroke-width="1.0" stroke="#555"/>
<path d="M1325.4,142.6l1.2,1.5l-1.2,1.5l1.2,1.5l-1.2,1.5l1.2,1.5l-1.2,1.5l1,1.4" stroke-width="1.0" />
<path d="M1241.4,155.2H1335.6L1363.6,181.4L1352.8,266.6" stroke-width="1.3" />
<path d="M1241.6,155.2L1231.2,236" stroke-width="1.3" />
<path d="M1280.4,158.6H1332.6Q1334.4,158.6 1335.6,159.8L1355,178.4Q1356.4,179.8 1356.2,181.6L1354.6,192.4Q1354.2,194.6 1352,194.2L1278.6,185Q1277,184.6 1277.2,183L1278.6,160.4Q1278.8,158.6 1280.4,158.6Z" stroke-width="1.5" />
<path d="M1237.1,184.9L1361.6,201" stroke-width="1.7" />
<path d="M1236.2,191L1361,207.2" stroke-width="1.0" />
<path d="M1233.8,211.9L1358.4,228" stroke-width="1.0" />
<path d="M1233.3,217.4L1357.8,233.6" stroke-width="1.4" />
<path d="M1265,197.6L1345.6,208Q1347.2,208.4 1347,210L1345.8,220.4Q1345.4,222.2 1343.8,222L1263.2,211.4Q1261.8,211 1262,209.6L1263.2,199Q1263.6,197.4 1265,197.6Z" stroke-width="1.2" />
<circle cx="1247.6" cy="202.3" r="7.4" stroke-width="1.1"/><circle cx="1247.6" cy="202.3" r="5.3" stroke-width="1.1"/>
<path d="M1257.5,195.4L1257,208L1254.8,214" stroke-width="1.7" />
<path d="M1232.4,187.6h4v3h-4z M1229.4,214h4v3h-4z" stroke-width="1.1" />
<path d="M1234,218L1239.4,235L1254,238.6L1303,244.6Q1310,246 1311,253" stroke-width="1.1" />
<path d="M1246.4,221V237 M1250.8,221.6V238" stroke-width="1.0" />
<path d="M1233.4,226L1229.2,237L1231.6,240L1237,233.6" stroke-width="1.3" />
<path d="M1311,253V266.6H1352.8" stroke-width="1.1" />
<circle cx="1332" cy="250.6" r="12.4" stroke-width="1.1" fill="#fff"/>
<path d="M1311.9,255.3L1320.0,247.1L1335.5,262.6L1327.3,270.7Z" stroke-width="1.1" fill="#fff"/>
<path d="M1336.7,230.5L1328.5,238.6L1344.0,254.1L1352.1,245.9Z" stroke-width="1.1" fill="#fff"/>
<path d="M1321.0,248.1L1329.5,239.6" stroke-width="2.2" />
<path d="M1334.5,261.6L1343.0,253.1" stroke-width="2.2" />
<path d="M1322.8,249.9L1331.3,241.4" stroke-width="1.4" />
<path d="M1332.7,259.8L1341.2,251.3" stroke-width="1.4" />
<path d="M1325.1,250.2L1331.6,243.7L1338.9,251.0L1332.4,257.5Z" stroke-width="1.8" />
<path d="M1321.0,248.1L1334.5,261.6" stroke-width="1.0" />
<path d="M1329.5,239.6L1343.0,253.1" stroke-width="1.0" />
<rect x="1347.8" y="223.8" width="5.0" height="8.8" rx="1" stroke-width="1.1" />
<path d="M1350.2,225.6v5" stroke-width="1.4" />
<path d="M1359,221.6L1364.4,228.7L1363.9,234.8L1357.3,229.3 M1354.6,251.9L1357.8,254.7L1354.4,258.6" stroke-width="1.0" />
<path d="M1218.6,241.2H1236 M1218.8,241.2L1223.2,250V291 M1223.2,291L1239,281.4 M1236,241V250Q1234,256 1236,262" stroke-width="1.1" />
<path d="M1224.6,254v34" stroke-width="0.8" stroke-dasharray="1 4"/>
<path d="M1239,236.6H1252 M1240.4,236.6V242 M1251.6,236.6V242" stroke-width="1.1" />
<rect x="1240" y="242" width="12.4" height="3.6" rx="1.6" stroke-width="1.0" />
<rect x="1240" y="245.6" width="12.4" height="3.6" rx="1.6" stroke-width="1.0" />
<rect x="1240" y="249.2" width="12.4" height="3.6" rx="1.6" stroke-width="1.0" />
<rect x="1240" y="252.8" width="12.4" height="3.6" rx="1.6" stroke-width="1.0" />
<path d="M1242,256.6H1250.6V260H1242Z M1253,255h2" stroke-width="1.1" />
<path d="M1239,262.4H1246V266 M1239,262.4V289.4 M1252,266V289.4" stroke-width="1.2" />
<rect x="1246.4" y="264.6" width="6.0" height="10.0" rx="1" stroke-width="1.2" />
<path d="M1249.4,266v7" stroke-width="1.6" />
<rect x="1269" y="133" width="7.4" height="157" rx="0" stroke-width="1.3" fill="#fff"/>
<path d="M1265,289.6V295.6H1280.4V289.6 M1267.6,292.6H1277.8" stroke-width="1.1" />
<rect x="1266.4" y="290" width="12.6" height="6.4" rx="0" stroke-width="1.0" />
<rect x="1335" y="267" width="9.6" height="6.4" rx="0" stroke-width="1.2" />
<circle cx="1337.4" cy="270" r="0.7"/><circle cx="1342.4" cy="270" r="0.7"/>
<rect x="1333.2" y="273.6" width="13.0" height="3.6" rx="1.6" stroke-width="1.0" />
<rect x="1333.2" y="277.2" width="13.0" height="3.6" rx="1.6" stroke-width="1.0" />
<rect x="1333.2" y="280.8" width="13.0" height="3.6" rx="1.6" stroke-width="1.0" />
<rect x="1333.2" y="284.4" width="13.0" height="3.6" rx="1.6" stroke-width="1.0" />
<path d="M1334.6,288.4H1344.6" stroke-width="1.4" />
<rect x="1328.6" y="287.6" width="3.4" height="7.0" rx="0" stroke-width="1.1" />
<path d="M1252,289.4H1334.6" stroke-width="1.1" />
<path d="M1242,299.4H1344.6" stroke-width="1.5" />
<path d="M1238,300H1255 M1331.6,300H1348" stroke-width="2.2" />
<path d="M1241.8,289.4V300 M1251.6,289.4V300 M1334.8,289.4V300 M1344.6,289.4V300" stroke-width="1.1" />
<path d="M1241.8,300V324 M1251.6,300V324 M1334.8,300V324 M1344.6,300V324" stroke-width="1.2" />
<path d="M1235.6,324.4H1252.2 M1334,324.4H1350.6" stroke-width="1.8" />
<g fill="#000" stroke="none"><circle cx="1337.4" cy="160.0" r="0.85"/><circle cx="1343.0" cy="165.3" r="0.85"/><circle cx="1348.6" cy="170.6" r="0.85"/><circle cx="1354.2" cy="175.9" r="0.85"/><circle cx="1359.8" cy="181.2" r="0.85"/><circle cx="1360.6" cy="187.0" r="0.85"/><circle cx="1359.7" cy="194.0" r="0.85"/><circle cx="1358.8" cy="201.0" r="0.85"/><circle cx="1283.0" cy="156.9" r="0.85"/><circle cx="1289.4" cy="156.9" r="0.85"/><circle cx="1295.8" cy="156.9" r="0.85"/><circle cx="1302.2" cy="156.9" r="0.85"/><circle cx="1308.6" cy="156.9" r="0.85"/><circle cx="1315.0" cy="156.9" r="0.85"/><circle cx="1321.4" cy="156.9" r="0.85"/><circle cx="1327.8" cy="156.9" r="0.85"/><circle cx="1334.2" cy="156.9" r="0.85"/><circle cx="1282.0" cy="187.6" r="0.85"/><circle cx="1290.0" cy="188.6" r="0.85"/><circle cx="1298.0" cy="189.7" r="0.85"/><circle cx="1306.0" cy="190.7" r="0.85"/><circle cx="1314.0" cy="191.8" r="0.85"/><circle cx="1322.0" cy="192.8" r="0.85"/><circle cx="1330.0" cy="193.8" r="0.85"/><circle cx="1338.0" cy="194.9" r="0.85"/><circle cx="1346.0" cy="195.9" r="0.85"/><circle cx="1354.0" cy="197.0" r="0.85"/><circle cx="1268.0" cy="199.6" r="0.85"/><circle cx="1267.0" cy="210.0" r="0.85"/><circle cx="1276.6" cy="200.7" r="0.85"/><circle cx="1275.6" cy="211.1" r="0.85"/><circle cx="1285.2" cy="201.8" r="0.85"/><circle cx="1284.2" cy="212.2" r="0.85"/><circle cx="1293.8" cy="203.0" r="0.85"/><circle cx="1292.8" cy="213.4" r="0.85"/><circle cx="1302.4" cy="204.1" r="0.85"/><circle cx="1301.4" cy="214.5" r="0.85"/><circle cx="1311.0" cy="205.2" r="0.85"/><circle cx="1310.0" cy="215.6" r="0.85"/><circle cx="1319.6" cy="206.3" r="0.85"/><circle cx="1318.6" cy="216.7" r="0.85"/><circle cx="1328.2" cy="207.4" r="0.85"/><circle cx="1327.2" cy="217.8" r="0.85"/><circle cx="1336.8" cy="208.6" r="0.85"/><circle cx="1335.8" cy="219.0" r="0.85"/><circle cx="1345.4" cy="209.7" r="0.85"/><circle cx="1344.4" cy="220.1" r="0.85"/><circle cx="1356.6" cy="196.0" r="0.85"/><circle cx="1355.4" cy="204.0" r="0.85"/><circle cx="1354.4" cy="212.0" r="0.85"/><circle cx="1353.0" cy="221.0" r="0.85"/><circle cx="1258.0" cy="228.0" r="0.85"/><circle cx="1262.0" cy="236.0" r="0.85"/><circle cx="1269.0" cy="229.4" r="0.85"/><circle cx="1273.0" cy="237.4" r="0.85"/><circle cx="1280.0" cy="230.9" r="0.85"/><circle cx="1284.0" cy="238.9" r="0.85"/><circle cx="1291.0" cy="232.3" r="0.85"/><circle cx="1295.0" cy="240.3" r="0.85"/><circle cx="1302.0" cy="233.7" r="0.85"/><circle cx="1306.0" cy="241.7" r="0.85"/><circle cx="1313.0" cy="235.2" r="0.85"/><circle cx="1317.0" cy="243.2" r="0.85"/><circle cx="1324.0" cy="236.6" r="0.85"/><circle cx="1328.0" cy="244.6" r="0.85"/><circle cx="1335.0" cy="238.0" r="0.85"/><circle cx="1339.0" cy="246.0" r="0.85"/><circle cx="1245.0" cy="158.4" r="0.85"/><circle cx="1255.0" cy="158.4" r="0.85"/><circle cx="1264.0" cy="158.4" r="0.85"/><circle cx="1244.4" cy="164.0" r="0.85"/><circle cx="1251.0" cy="167.0" r="0.85"/><circle cx="1260.0" cy="163.0" r="0.85"/><circle cx="1266.0" cy="170.0" r="0.85"/><circle cx="1243.4" cy="172.0" r="0.85"/><circle cx="1249.0" cy="178.0" r="0.85"/><circle cx="1257.0" cy="175.0" r="0.85"/><circle cx="1265.0" cy="178.6" r="0.85"/><circle cx="1242.4" cy="181.6" r="0.85"/><circle cx="1255.0" cy="184.4" r="0.85"/><circle cx="1241.0" cy="224.0" r="0.85"/><circle cx="1244.0" cy="231.0" r="0.85"/><circle cx="1254.0" cy="232.0" r="0.85"/><circle cx="1248.0" cy="225.0" r="0.85"/></g>
</g>
<g id="top" fill="none" stroke="#000" stroke-linejoin="round">
<path d="M924.0,560Q923.6,545.4 934.6,545.2Q945.6,545.4 945.2,560" stroke-width="1.1" />
<path d="M927.2,558Q927.2,549.6 934.6,549.4Q942.0,549.6 942.0,558" stroke-width="1.0" />
<rect x="929.6" y="555" width="10.0" height="9" rx="1.5" stroke-width="1.4" />
<rect x="921.6" y="560.6" width="26.0" height="12.0" rx="1" stroke-width="1.0" />
<rect x="923.6" y="564" width="22.0" height="21.8" rx="10" stroke-width="1.1" fill="#fff"/>
<path d="M929.6,558.6Q934.6,555.4 939.6,558.6" stroke-width="1.2" />
<rect x="938.0" y="581" width="8.0" height="6" rx="0" stroke-width="1.0" fill="#fff"/>
<path d="M1100.4,560Q1100,545.4 1111,545.2Q1122,545.4 1121.6,560" stroke-width="1.1" />
<path d="M1103.6,558Q1103.6,549.6 1111,549.4Q1118.4,549.6 1118.4,558" stroke-width="1.0" />
<rect x="1106" y="555" width="10" height="9" rx="1.5" stroke-width="1.4" />
<rect x="1098" y="560.6" width="26" height="12.0" rx="1" stroke-width="1.0" />
<rect x="1100" y="564" width="22" height="21.8" rx="10" stroke-width="1.1" fill="#fff"/>
<path d="M1106,558.6Q1111,555.4 1116,558.6" stroke-width="1.2" />
<rect x="1099.6" y="581" width="8.0" height="6" rx="0" stroke-width="1.0" fill="#fff"/>
<path d="M1011.4,465V453Q1011.4,451.4 1013,451.4H1032.8Q1034.4,451.4 1034.4,453V465" stroke-width="1.2" />
<path d="M1011.6,452L1016,457V465 M1034.2,452L1030,457V465 M1016,457H1030" stroke-width="1.1" />
<path d="M1013.6,463.6H1032.4" stroke-width="1.6" />
<path d="M981.6,470V464Q981.6,462.4 983.2,462.4H994.0Q995.6,462.4 995.6,464V470" stroke-width="1.1" />
<path d="M983.0,464.6H994.2" stroke-width="1.8" stroke="#666"/>
<path d="M983.0,467.4H994.2" stroke-width="1.0" />
<path d="M1050.4,470V464Q1050.4,462.4 1052.0,462.4H1062.6000000000001Q1064.2,462.4 1064.2,464V470" stroke-width="1.1" />
<path d="M1051.8000000000002,464.6H1062.8" stroke-width="1.8" stroke="#666"/>
<path d="M1051.8000000000002,467.4H1062.8" stroke-width="1.0" />
<path d="M945.6,466.5H1099.6" stroke-width="1.8" />
<path d="M945.6,470.2H1099.6" stroke-width="1.1" />
<path d="M956,472.6H1089.6" stroke-width="1.8" />
<path d="M956,474.6H1016 M1030,474.6H1089.6" stroke-width="0.9" />
<path d="M945.8,466.5V594H950.4 M950.4,470V597.4H1094.8V470 M1099.4,466.5V594H1094.8" stroke-width="1.2" />
<circle cx="962.4" cy="491.4" r="6.6" stroke-width="1.0"/>
<circle cx="962.4" cy="545" r="6.6" stroke-width="1.0"/>
<circle cx="1083.2" cy="491.4" r="6.6" stroke-width="1.0"/>
<circle cx="1083.2" cy="545" r="6.6" stroke-width="1.0"/>
<rect x="967.2" y="475.2" width="111.2" height="93.2" fill="#fff" stroke="none"/>
<path d="M967.2,475V568.4H1078.4V475" stroke-width="1.2" />
<circle cx="987.2" cy="489.3" r="10.6" stroke-width="1.1"/><circle cx="1058.6" cy="489.3" r="10.6" stroke-width="1.1"/>
<rect x="983.2" y="482.5" width="79.4" height="14.3" rx="0" stroke-width="1.2" fill="#fff"/>
<rect x="1008.2" y="475.4" width="29.2" height="29.0" rx="2" stroke-width="1.3" fill="#fff"/>
<path d="M1011.6,478V502 M1034,478V502" stroke-width="2.6" stroke="#333"/>
<path d="M1011.6,479V501 M1034,479V501" stroke-width="0.7" stroke="#fff"/>
<path d="M1013.4,477.2H1032.2 M1013.4,482.5H1032.2 M1013.4,496.8H1032.2" stroke-width="1.1" />
<path d="M1013.6,502H1032" stroke-width="2.6" stroke="#777"/>
<path d="M1021.4,482.5V496.8 M1024.6,482.5V496.8" stroke-width="1.3" />
<path d="M1018.6,472.4h8.6v2.6h-8.6z" stroke-width="1.0" fill="#fff"/>
<rect x="933.6" y="502.4" width="33.6" height="8.0" rx="1" stroke-width="1.1" fill="#fff"/>
<rect x="1078.6" y="502.4" width="33.0" height="8.0" rx="1" stroke-width="1.1" fill="#fff"/>
<path d="M945.8,502.4v8M950.4,502.4v8 M1094.8,502.4v8M1099.4,502.4v8" stroke-width="0.9" />
<path d="M941.6,480h4v5.6h-4z M942.6,488Q942,491 944.6,492.4 M1100.2,480h4v5.6h-4z M1103.4,488Q1104,491 1101.4,492.4" stroke-width="1.1" />
<path d="M945.6,530.4H967 M945.6,534.4H967 M945.6,538.6H967" stroke-width="1.0" />
<rect x="937" y="529.4" width="8.8" height="10.6" rx="3" stroke-width="1.2" />
<ellipse cx="941.2" cy="534.8" rx="2.6" ry="4" stroke-width="1.6"/>
<circle cx="1023" cy="534" r="27.4" stroke-width="1.1"/><circle cx="1023" cy="534" r="24.8" stroke-width="1.1"/><circle cx="1023" cy="534" r="19.4" stroke-width="1.6"/>
<circle cx="1023" cy="534" r="26.1" stroke-width="2.4" stroke="#222" stroke-dasharray="0.8 7.4" fill="none"/>
<path d="M1003.8,534.2H1042.4" stroke-width="1.6" />
<path d="M1023,553.4V561" stroke-width="1.0" />
<path d="M1007,535.6h2M1013,535.6h2M1023,535.6v1.4M1031,535.6h2M1037,535.6h2" stroke-width="0.8" />
<rect x="956" y="575.6" width="62.4" height="17.8" rx="1.2" stroke-width="1.25" />
<path d="M956.0,575.6v1.4M956.0,593.4v-1.4M968.5,575.6v1.4M968.5,593.4v-1.4M981.0,575.6v1.4M981.0,593.4v-1.4M993.4,575.6v1.4M993.4,593.4v-1.4M1005.9,575.6v1.4M1005.9,593.4v-1.4M1018.4,575.6v1.4M1018.4,593.4v-1.4M956,581.5h1.4M1018.4,581.5h-1.4M956,587.5h1.4M1018.4,587.5h-1.4" stroke-width="1.2" />
<rect x="1027.4" y="575.6" width="62.4" height="17.8" rx="1.2" stroke-width="1.25" />
<path d="M1027.4,575.6v1.4M1027.4,593.4v-1.4M1039.9,575.6v1.4M1039.9,593.4v-1.4M1052.4,575.6v1.4M1052.4,593.4v-1.4M1064.8,575.6v1.4M1064.8,593.4v-1.4M1077.3,575.6v1.4M1077.3,593.4v-1.4M1089.8,575.6v1.4M1089.8,593.4v-1.4M1027.4,581.5h1.4M1089.8,581.5h-1.4M1027.4,587.5h1.4M1089.8,587.5h-1.4" stroke-width="1.2" />
<g fill="#000" stroke="none"><circle cx="948.2" cy="483.0" r="0.9"/><circle cx="948.2" cy="500.0" r="0.9"/><circle cx="948.2" cy="527.0" r="0.9"/><circle cx="948.2" cy="549.0" r="0.9"/><circle cx="948.2" cy="571.0" r="0.9"/><circle cx="948.2" cy="582.0" r="0.9"/><circle cx="948.2" cy="590.0" r="0.9"/><circle cx="1097.2" cy="483.0" r="0.9"/><circle cx="1097.2" cy="500.0" r="0.9"/><circle cx="1097.2" cy="527.0" r="0.9"/><circle cx="1097.2" cy="549.0" r="0.9"/><circle cx="1097.2" cy="571.0" r="0.9"/><circle cx="1097.2" cy="582.0" r="0.9"/><circle cx="1097.2" cy="590.0" r="0.9"/><circle cx="953.0" cy="474.0" r="0.9"/><circle cx="1092.6" cy="474.0" r="0.9"/><circle cx="955.6" cy="500.0" r="0.9"/><circle cx="965.4" cy="500.0" r="0.9"/><circle cx="1080.4" cy="500.0" r="0.9"/><circle cx="1090.4" cy="500.0" r="0.9"/><circle cx="991.0" cy="598.0" r="0.9"/><circle cx="1006.0" cy="598.0" r="0.9"/><circle cx="1040.0" cy="598.0" r="0.9"/><circle cx="1054.0" cy="598.0" r="0.9"/></g>
</g>
<g id="dims">
<g fill="none" stroke="#777" stroke-width="0.9"><path d="M843.4,80.4H1008"/><path d="M848,80.4V325"/><path d="M842.4,325H963"/><path d="M873.6,234.6H924 M879,234.6V325"/><path d="M900.4,258.6H962 M906.4,258.6V325"/><path d="M921.6,244V392.4 M1124.4,244V392.4 M921.6,387H1124.4"/><path d="M994,236V339 M1051.6,236V339 M994,333.4H1051.6"/><path d="M991.4,236V365.6 M1054.4,236V365.6 M991.4,360.4H1054.4"/><path d="M1220,63.4H1292 M1243.4,58V80.4 M1268.6,58V80.4"/><path d="M1281.4,89.6V103.6 M1320.2,89.6V103.6 M1281.4,95H1320.2"/><path d="M1320.4,103.6H1400 M1394.6,103.6V325 M1351,325H1400"/><path d="M1172,240H1230 M1178,240V325 M1172,325H1236"/><path d="M1202,289.4H1223 M1207,289.4V325"/><path d="M1218.4,241V357 M1364.4,236V357 M1218.4,352H1364.4"/></g>
<g fill="#111" stroke="none"><path d="M848,80.4L845.9,91.9L850.1,91.9Z"/><path d="M848,325L850.1,313.5L845.9,313.5Z"/><path d="M879,234.6L876.9,246.1L881.1,246.1Z"/><path d="M879,325L881.1,313.5L876.9,313.5Z"/><path d="M906.4,258.6L904.3,270.1L908.5,270.1Z"/><path d="M906.4,325L908.5,313.5L904.3,313.5Z"/><path d="M921.6,387L933.1,389.1L933.1,384.9Z"/><path d="M1124.4,387L1112.9,384.9L1112.9,389.1Z"/><path d="M994,333.4L1005.5,335.5L1005.5,331.3Z"/><path d="M1051.6,333.4L1040.1,331.3L1040.1,335.5Z"/><path d="M991.4,360.4L1002.9,362.5L1002.9,358.3Z"/><path d="M1054.4,360.4L1042.9,358.3L1042.9,362.5Z"/><path d="M1243.4,63.4L1231.9,61.3L1231.9,65.5Z"/><path d="M1268.6,63.4L1280.1,65.5L1280.1,61.3Z"/><path d="M1281.4,95L1292.9,97.1L1292.9,92.9Z"/><path d="M1320.2,95L1308.7,92.9L1308.7,97.1Z"/><path d="M1394.6,103.6L1392.5,115.1L1396.7,115.1Z"/><path d="M1394.6,325L1396.7,313.5L1392.5,313.5Z"/><path d="M1178,240L1175.9,251.5L1180.1,251.5Z"/><path d="M1178,325L1180.1,313.5L1175.9,313.5Z"/><path d="M1207,289.4L1205.1,298.9L1208.9,298.9Z"/><path d="M1207,325L1208.9,315.5L1205.1,315.5Z"/><path d="M1218.4,352L1229.9,354.1L1229.9,349.9Z"/><path d="M1364.4,352L1352.9,349.9L1352.9,354.1Z"/></g>
<text class="dm" transform="translate(845,202) rotate(-90) scale(0.665,1)" text-anchor="middle" font-size="22.2">2560</text><text class="dm" transform="translate(875.6,282.4) rotate(-90) scale(0.665,1)" text-anchor="middle" font-size="22.2">930</text><text class="dm" transform="translate(902.6,291.6) rotate(-90) scale(0.665,1)" text-anchor="middle" font-size="22.2">680</text><text class="dm" transform="translate(1022.6,329.4) scale(0.665,1)" text-anchor="middle" font-size="22.2">600</text><text class="dm" transform="translate(1022.6,356.2) scale(0.665,1)" text-anchor="middle" font-size="22.2">660</text><text class="dm" transform="translate(1022.8,382.6) scale(0.665,1)" text-anchor="middle" font-size="22.2">2120</text><text class="dm" transform="translate(1256.8,59.2) scale(0.665,1)" text-anchor="middle" font-size="22.2">260</text><text class="dm" transform="translate(1300.5,90.8) scale(0.665,1)" text-anchor="middle" font-size="22.2">Φ<tspan dx="4.6">400</tspan></text><text class="dm" transform="translate(1391.4,214) rotate(-90) scale(0.665,1)" text-anchor="middle" font-size="22.2">2320</text><text class="dm" transform="translate(1174.4,283) rotate(-90) scale(0.665,1)" text-anchor="middle" font-size="22.2">880</text><text class="dm" transform="translate(1203.4,307.4) rotate(-90) scale(0.665,1)" text-anchor="middle" font-size="22.2">370</text><text class="dm" transform="translate(1291.4,347.8) scale(0.665,1)" text-anchor="middle" font-size="22.2">1540</text>
</g>

</svg>
</body></html>
